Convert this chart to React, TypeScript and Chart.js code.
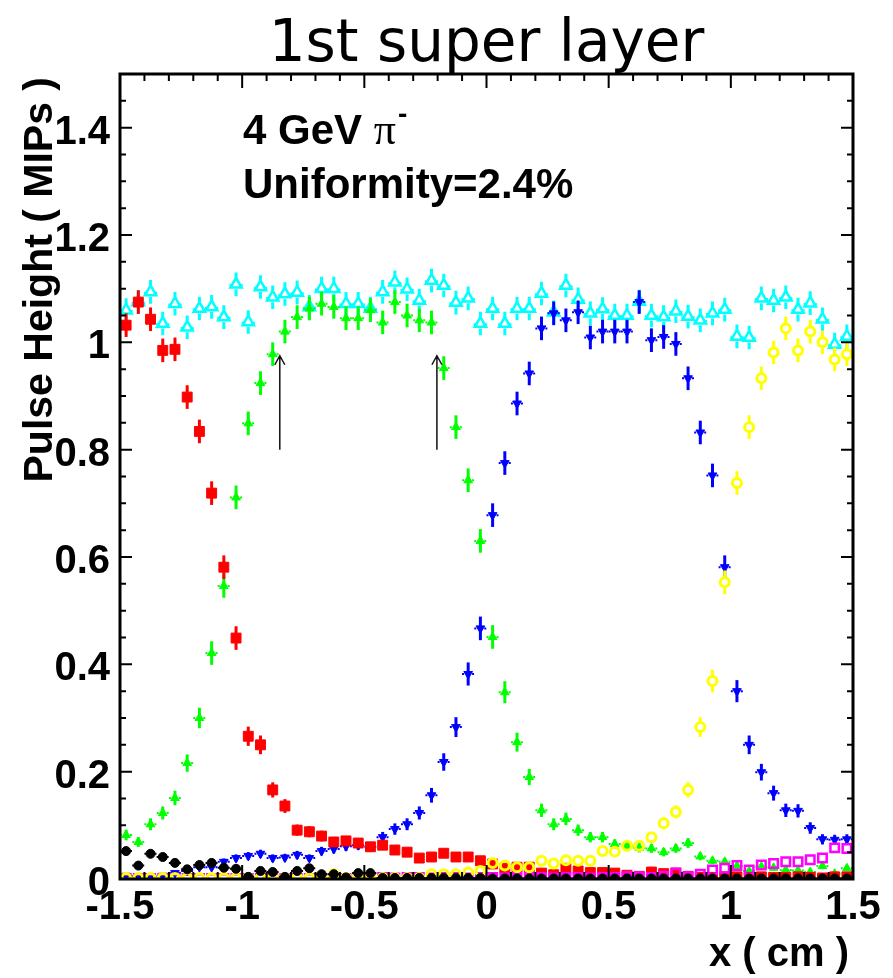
import { useEffect, useRef } from "react";
import { Chart, registerables } from "chart.js";

Chart.register(...registerables);

// ---------- data ----------
const xBins = [
  -1.475, -1.425, -1.375, -1.325, -1.275, -1.225, -1.175, -1.125, -1.075, -1.025,
  -0.975, -0.925, -0.875, -0.825, -0.775, -0.725, -0.675, -0.625, -0.575, -0.525,
  -0.475, -0.425, -0.375, -0.325, -0.275, -0.225, -0.175, -0.125, -0.075, -0.025,
  0.025, 0.075, 0.125, 0.175, 0.225, 0.275, 0.325, 0.375, 0.425, 0.475,
  0.525, 0.575, 0.625, 0.675, 0.725, 0.775, 0.825, 0.875, 0.925, 0.975,
  1.025, 1.075, 1.125, 1.175, 1.225, 1.275, 1.325, 1.375, 1.425, 1.475,
];

const redPad = [
  1.032, 1.075, 1.043, 0.985, 0.987, 0.898, 0.834, 0.719, 0.581, 0.449,
  0.266, 0.25, 0.166, 0.136, 0.091, 0.088, 0.08, 0.069, 0.071, 0.067,
  0.06, 0.063, 0.054, 0.05, 0.039, 0.041, 0.048, 0.041, 0.041, 0.034,
  0.028, 0.02, 0.022, 0.022, 0.011, 0.008, 0.02, 0.015, 0.012, 0.012,
  0.011, 0.007, 0.005, 0.013, 0.01, 0.011, 0.005, 0.003, 0.003, 0.004,
  0.004, 0.003, 0.004, 0.003, 0.003, 0.004, 0.003, 0.002, 0.004, 0.004,
];

const greenPad = [
  0.082, 0.069, 0.102, 0.123, 0.151, 0.216, 0.3, 0.421, 0.546, 0.711,
  0.849, 0.924, 0.978, 1.02, 1.047, 1.063, 1.072, 1.066, 1.045, 1.045,
  1.06, 1.037, 1.075, 1.05, 1.041, 1.037, 0.952, 0.842, 0.743, 0.63,
  0.451, 0.348, 0.255, 0.19, 0.128, 0.102, 0.112, 0.091, 0.078, 0.078,
  0.065, 0.062, 0.058, 0.057, 0.05, 0.057, 0.067, 0.042, 0.034, 0.032,
  0.024, 0.015, 0.023, 0.021, 0.017, 0.016, 0.013, 0.024, 0.01, 0.02,
];

const bluePad = [
  0.006, 0.005, 0.004, 0.006, 0.011, 0.015, 0.022, 0.022, 0.032, 0.039,
  0.043, 0.047, 0.039, 0.04, 0.045, 0.039, 0.052, 0.056, 0.061, 0.063,
  0.06, 0.078, 0.093, 0.102, 0.123, 0.156, 0.218, 0.283, 0.382, 0.467,
  0.678, 0.775, 0.886, 0.942, 1.026, 1.054, 1.041, 1.056, 1.009, 1.02,
  1.02, 1.02, 1.075, 1.004, 1.01, 0.997, 0.933, 0.832, 0.752, 0.581,
  0.35, 0.25, 0.199, 0.16, 0.128, 0.127, 0.095, 0.074, 0.073, 0.074,
];

const yellowPad = [
  0.002, 0.002, 0.002, 0.002, 0.002, 0.002, 0.002, 0.002, 0.002, 0.002,
  0.002, 0.002, 0.002, 0.002, 0.002, 0.002, 0.002, 0.009, 0.002, 0.002,
  0.002, 0.002, 0.002, 0.002, 0.002, 0.009, 0.009, 0.009, 0.012, 0.015,
  0.03, 0.025, 0.022, 0.022, 0.034, 0.029, 0.035, 0.034, 0.034, 0.052,
  0.051, 0.062, 0.062, 0.078, 0.104, 0.125, 0.166, 0.283, 0.369, 0.553,
  0.738, 0.842, 0.933, 0.981, 1.026, 0.985, 1.02, 1.0, 0.968, 0.978,
];

const magentaPad = [
  0.001, 0.001, 0.001, 0.001, 0.001, 0.001, 0.001, 0.001, 0.001, 0.001,
  0.001, 0.001, 0.001, 0.001, 0.001, 0.001, 0.001, 0.001, 0.001, 0.001,
  0.003, 0.003, 0.002, 0.003, 0.003, 0.002, 0.003, 0.003, 0.002, 0.003,
  0.003, 0.002, 0.003, 0.003, 0.003, 0.002, 0.003, 0.003, 0.002, 0.003,
  0.003, 0.004, 0.004, 0.003, 0.005, 0.011, 0.004, 0.009, 0.017, 0.02,
  0.025, 0.017, 0.026, 0.029, 0.032, 0.032, 0.036, 0.039, 0.058, 0.057,
];

const blackPad = [
  0.052, 0.025, 0.047, 0.041, 0.03, 0.018, 0.026, 0.03, 0.021, 0.019,
  0.004, 0.015, 0.013, 0.004, 0.015, 0.02, 0.009, 0.009, 0.003, 0.011,
  0.011, 0.002, 0.002, 0.002, 0.002, 0.002, 0.002, 0.002, 0.002, 0.002,
  0.001, 0.001, 0.001, 0.001, 0.001, 0.001, 0.001, 0.001, 0.001, 0.001,
  0.001, 0.001, 0.001, 0.001, 0.001, 0.001, 0.001, 0.001, 0.001, 0.001,
  0.001, 0.001, 0.001, 0.001, 0.001, 0.001, 0.001, 0.001, 0.001, 0.001,
];

const sumPads = [
  1.06, 1.075, 1.094, 1.035, 1.072, 1.028, 1.063, 1.066, 1.047, 1.108,
  1.038, 1.103, 1.084, 1.09, 1.093, 1.066, 1.1, 1.1, 1.072, 1.072,
  1.063, 1.094, 1.112, 1.099, 1.078, 1.115, 1.106, 1.074, 1.082, 1.035,
  1.063, 1.035, 1.063, 1.063, 1.091, 1.056, 1.106, 1.08, 1.054, 1.062,
  1.05, 1.05, 1.076, 1.05, 1.047, 1.058, 1.048, 1.041, 1.054, 1.061,
  1.011, 1.009, 1.082, 1.078, 1.084, 1.061, 1.073, 1.043, 0.996, 1.011,
];

const xTicks = [-1.5, -1, -0.5, 0, 0.5, 1, 1.5];
const yTicks = [0, 0.2, 0.4, 0.6, 0.8, 1, 1.2, 1.4];
const arrowX = [-0.846, -0.203];
const arrowFrom = 0.8;
const arrowTo = 0.975;

const titleText = "1st super layer";
const xTitle = "x ( cm )";
const yTitle = "Pulse Height ( MIPs )";
const beamText = "4 GeV ";
const uniformityText = "Uniformity=2.4%";

// error bar look (half length in MIPs, shrinking for tiny signals)
const ERR_FULL = 0.022;
const ERR_KNEE = 0.4;

// ---------- styling ----------
const SANS = '"Liberation Sans", Arial, Helvetica, sans-serif';
const TITLE_FONT = '"DejaVu Sans", Verdana, sans-serif';
const SERIF = '"Liberation Serif", "Times New Roman", serif';

const W = 893;
const H = 978;

function pts(values: number[]) {
  return values.map((v, i) => ({ x: xBins[i], y: v }));
}

const errOf = (v: number) => ERR_FULL * Math.min(1, Math.sqrt(Math.max(v, 0) / ERR_KNEE));

const errorBarPlugin = {
  id: "errbars",
  beforeDatasetDraw(chart: any, args: any) {
    const ds: any = chart.data.datasets[args.index];
    const meta = args.meta;
    const { ctx, chartArea: a } = chart;
    const ys = chart.scales.y;
    const xs = chart.scales.x;
    const halfBin = Math.abs(xs.getPixelForValue(0.025) - xs.getPixelForValue(0));
    const gap = ds.gap || 0;
    ctx.save();
    ctx.beginPath();
    ctx.rect(a.left, a.top, a.right - a.left, a.bottom - a.top);
    ctx.clip();
    ctx.strokeStyle = ds.borderColor;
    meta.data.forEach((pt: any, i: number) => {
      const v = ds.data[i].y;
      const e = errOf(v);
      const y1 = ys.getPixelForValue(v + e);
      const y2 = ys.getPixelForValue(v - e);
      ctx.setLineDash([]);
      ctx.lineWidth = ds.errWidth || 3;
      ctx.beginPath();
      if (gap > 0) {
        if (pt.y - gap > y1) {
          ctx.moveTo(pt.x, y1);
          ctx.lineTo(pt.x, pt.y - gap);
        }
        if (pt.y + gap < y2) {
          ctx.moveTo(pt.x, pt.y + gap);
          ctx.lineTo(pt.x, y2);
        }
      } else {
        ctx.moveTo(pt.x, y1);
        ctx.lineTo(pt.x, y2);
      }
      ctx.stroke();
      if (ds.hbar === "dot") {
        ctx.lineWidth = 2;
        ctx.setLineDash([2, 3]);
        ctx.beginPath();
        ctx.moveTo(pt.x - halfBin, pt.y);
        ctx.lineTo(pt.x + halfBin, pt.y);
        ctx.stroke();
      } else if (ds.hbar === "solid") {
        ctx.lineWidth = 2.5;
        ctx.beginPath();
        ctx.moveTo(pt.x - halfBin - 0.5, pt.y + 1);
        ctx.lineTo(pt.x - 3, pt.y + 1);
        ctx.moveTo(pt.x + 3, pt.y + 1);
        ctx.lineTo(pt.x + halfBin + 0.5, pt.y + 1);
        ctx.stroke();
      }
    });
    ctx.restore();
  },
};

const overlayPlugin = {
  id: "overlay",
  afterDraw(chart: any) {
    const { ctx, chartArea: a } = chart;
    const xs = chart.scales.x;
    const ys = chart.scales.y;
    ctx.save();
    ctx.strokeStyle = "#000";
    ctx.fillStyle = "#000";
    ctx.lineWidth = 2;
    // x ticks (major 0.5, minor 0.1), bottom and top, inward
    for (let i = -15; i <= 15; i++) {
      const px = xs.getPixelForValue(i / 10);
      const len = i % 5 === 0 ? 14 : 7;
      ctx.beginPath();
      ctx.moveTo(px, a.bottom);
      ctx.lineTo(px, a.bottom - len);
      ctx.moveTo(px, a.top);
      ctx.lineTo(px, a.top + len);
      ctx.stroke();
    }
    // y ticks (major 0.2, minor 0.05), left and right, inward
    for (let i = 0; i <= 30; i++) {
      const py = ys.getPixelForValue(i * 0.05);
      const len = i % 4 === 0 ? 12 : 6;
      ctx.beginPath();
      ctx.moveTo(a.left, py);
      ctx.lineTo(a.left + len, py);
      ctx.moveTo(a.right, py);
      ctx.lineTo(a.right - len, py);
      ctx.stroke();
    }
    // frame
    ctx.lineWidth = 3;
    ctx.strokeRect(a.left, a.top, a.right - a.left, a.bottom - a.top);

    // arrows
    ctx.strokeStyle = "#111";
    ctx.lineWidth = 1.5;
    arrowX.forEach((xv) => {
      const px = xs.getPixelForValue(xv);
      const yb = ys.getPixelForValue(arrowFrom);
      const yt = ys.getPixelForValue(arrowTo);
      ctx.beginPath();
      ctx.moveTo(px, yb);
      ctx.lineTo(px, yt);
      ctx.moveTo(px - 5, yt + 9);
      ctx.lineTo(px, yt);
      ctx.lineTo(px + 5, yt + 9);
      ctx.stroke();
    });

    // title
    ctx.fillStyle = "#000";
    ctx.textBaseline = "alphabetic";
    ctx.textAlign = "center";
    ctx.font = `58px ${TITLE_FONT}`;
    ctx.fillText(titleText, (a.left + a.right) / 2, 61);

    // x title
    ctx.font = `bold 40px ${SANS}`;
    ctx.textAlign = "right";
    ctx.fillText(xTitle, a.right - 4, 966);

    // y title
    ctx.save();
    ctx.font = `bold 41px ${SANS}`;
    ctx.translate(52, a.top + 3);
    ctx.rotate(-Math.PI / 2);
    ctx.textAlign = "right";
    ctx.fillText(yTitle, 0, 0);
    ctx.restore();

    // annotations
    ctx.textAlign = "left";
    ctx.font = `bold 42px ${SANS}`;
    const bx = 243;
    ctx.fillText(beamText, bx, 144);
    const w1 = ctx.measureText(beamText).width;
    ctx.font = `44px ${SERIF}`;
    ctx.fillText("\u03C0", bx + w1, 144);
    const w2 = ctx.measureText("\u03C0").width;
    ctx.font = `bold 28px ${SANS}`;
    ctx.fillText("-", bx + w1 + w2 + 2, 123);
    ctx.font = `bold 42px ${SANS}`;
    ctx.fillText(uniformityText, bx, 198);
    ctx.restore();
  },
};

type Def = {
  data: number[];
  color: string;
  style: string;
  radius: number;
  filled: boolean;
  border: number;
  rotation?: number;
  hbar?: string;
  gap?: number;
};

// drawing order: first = on top
const defs: Def[] = [
  { data: blackPad, color: "#000000", style: "circle", radius: 4.5, filled: true, border: 1, hbar: "dot" },
  { data: yellowPad, color: "#ffff00", style: "circle", radius: 4.5, filled: false, border: 3, gap: 5 },
  { data: magentaPad, color: "#ff00ff", style: "rect", radius: 6, filled: false, border: 2.5, gap: 5 },
  { data: redPad, color: "#ff0000", style: "rect", radius: 7, filled: true, border: 1 },
  { data: greenPad, color: "#00ff00", style: "triangle", radius: 5, filled: true, border: 1, hbar: "dot" },
  { data: bluePad, color: "#0000ff", style: "triangle", radius: 5, filled: true, border: 1, rotation: 180, hbar: "dot" },
  { data: sumPads, color: "#00ffff", style: "triangle", radius: 6.5, filled: false, border: 2.5, hbar: "solid", gap: 5 },
];

export default function App() {
  const ref = useRef<HTMLCanvasElement | null>(null);

  useEffect(() => {
    if (!ref.current) return;
    const datasets: any[] = defs.map((d) => ({
      data: pts(d.data),
      showLine: false,
      pointStyle: d.style,
      pointRadius: d.radius,
      pointRotation: d.rotation || 0,
      pointBackgroundColor: d.filled ? d.color : "rgba(0,0,0,0)",
      pointBorderColor: d.color,
      pointBorderWidth: d.border,
      borderColor: d.color,
      backgroundColor: d.color,
      clip: 0,
      hbar: d.hbar,
      gap: d.gap || 0,
    }));

    const chart = new Chart(ref.current, {
      type: "scatter",
      data: { datasets },
      options: {
        animation: false,
        responsive: false,
        devicePixelRatio: 1,
        layout: { padding: { top: 74, right: 40, left: 0, bottom: 0 } },
        plugins: {
          legend: { display: false },
          tooltip: { enabled: false },
          title: { display: false },
        },
        scales: {
          x: {
            type: "linear",
            min: -1.5,
            max: 1.5,
            grid: { display: false, drawTicks: false },
            border: { display: false },
            afterBuildTicks: (s: any) => {
              s.ticks = xTicks.map((v) => ({ value: v }));
            },
            afterFit: (s: any) => {
              s.height = 99;
            },
            ticks: {
              autoSkip: false,
              maxRotation: 0,
              color: "#000",
              padding: 5,
              font: { family: SANS, size: 40, weight: "bold" },
              callback: (v: any) => String(Math.round(Number(v) * 10) / 10),
            },
          },
          y: {
            type: "linear",
            min: 0,
            max: 1.5,
            grid: { display: false, drawTicks: false },
            border: { display: false },
            afterBuildTicks: (s: any) => {
              s.ticks = yTicks.map((v) => ({ value: v }));
            },
            afterFit: (s: any) => {
              s.width = 120;
            },
            ticks: {
              autoSkip: false,
              color: "#000",
              padding: 10,
              labelOffset: 5,
              font: { family: SANS, size: 40, weight: "bold" },
              callback: (v: any) => {
                const r = Math.round(Number(v) * 10) / 10;
                return r === 0 || r === 1 ? String(r) : r.toFixed(1);
              },
            },
          },
        },
      } as any,
      plugins: [errorBarPlugin, overlayPlugin],
    });
    return () => chart.destroy();
  }, []);

  return (
    <div style={{ position: "absolute", left: 0, top: 0, width: W, height: H, background: "#fff" }}>
      <canvas ref={ref} width={W} height={H} style={{ width: W, height: H, display: "block" }} />
    </div>
  );
}
